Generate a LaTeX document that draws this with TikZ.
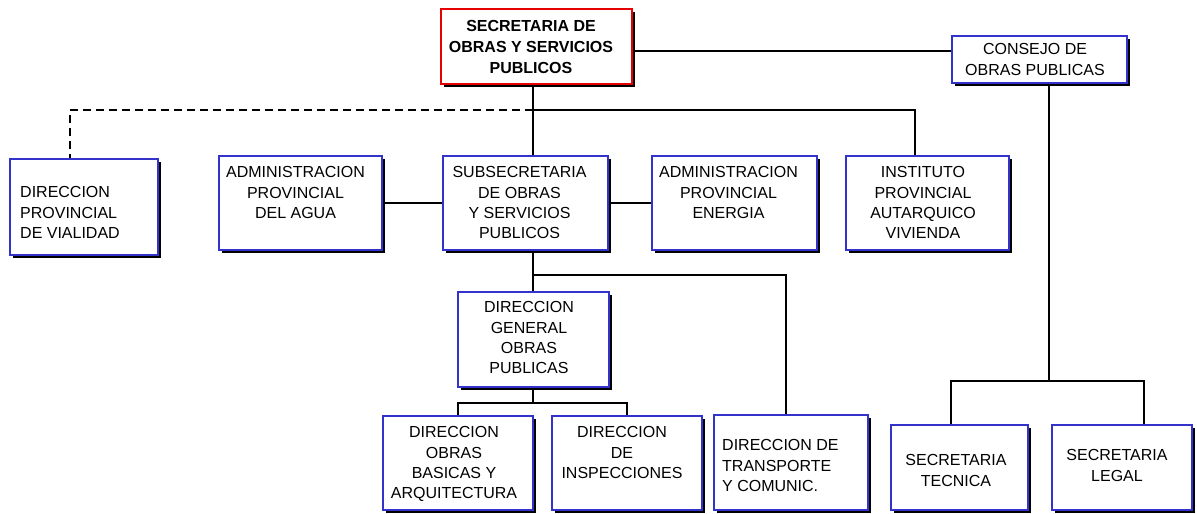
\documentclass[tikz,border=0pt]{standalone}
\usepackage{fontspec}
\setmainfont{Liberation Sans}
\usetikzlibrary{shadows}
\definecolor{boxblue}{RGB}{51,51,204}
\definecolor{boxred}{RGB}{230,0,0}
\tikzset{
  orgbox/.style={rectangle, draw=boxblue, line width=2.5pt, fill=white, inner sep=0pt,
    drop shadow={shadow xshift=3pt, shadow yshift=-3pt, opacity=1, fill=black}},
  redbox/.style={orgbox, draw=boxred},
  lbl/.style={inner sep=0pt, align=center, anchor=north, font=\fontsize{16}{20.3}\selectfont},
  lbll/.style={lbl, align=left, anchor=north west},
  conn/.style={line width=1.4pt, draw=black},
  dashconn/.style={conn, dash pattern=on 8pt off 5pt}
}
\begin{document}
\begin{tikzpicture}[x=1pt,y=-1pt]
\useasboundingbox[fill=white] (0,0) rectangle (1197,514);
% boxes
\node[redbox, minimum width=191pt, minimum height=75pt] (sec) at (536.5,46.5) {};
\node[orgbox, minimum width=175pt, minimum height=47pt] (cons) at (1039.5,59.5) {};
\node[orgbox, minimum width=148pt, minimum height=96pt] (vial) at (84,207) {};
\node[orgbox, minimum width=163pt, minimum height=94pt] (agua) at (300.5,203) {};
\node[orgbox, minimum width=165pt, minimum height=94pt] (sub) at (525.5,203) {};
\node[orgbox, minimum width=165pt, minimum height=94pt] (ener) at (734.5,203) {};
\node[orgbox, minimum width=163pt, minimum height=94pt] (inst) at (927.5,203) {};
\node[orgbox, minimum width=151pt, minimum height=95pt] (dgop) at (533.5,339.5) {};
\node[orgbox, minimum width=150pt, minimum height=94pt] (basic) at (458,463) {};
\node[orgbox, minimum width=150pt, minimum height=94pt] (insp) at (627,463) {};
\node[orgbox, minimum width=154pt, minimum height=95pt] (transp) at (791,462.5) {};
\node[orgbox, minimum width=137pt, minimum height=85pt] (tec) at (959.5,467.5) {};
\node[orgbox, minimum width=140pt, minimum height=85pt] (leg) at (1122,467.5) {};
% labels
\node[lbl, font=\fontsize{16}{21}\selectfont\bfseries] (tsec) at (531,20.5) {SECRETARIA DE\\OBRAS Y SERVICIOS\\PUBLICOS};
\node[lbl] (tcons) at (1035,43.5) {CONSEJO DE\\OBRAS PUBLICAS};
\node[lbll] (tvial) at (20,186.5) {DIRECCION\\PROVINCIAL\\DE VIALIDAD};
\node[lbl] (tagua) at (295.5,166.5) {ADMINISTRACION\\PROVINCIAL\\DEL AGUA};
\node[lbl] (tsub) at (519.5,166.5) {SUBSECRETARIA\\DE OBRAS\\Y SERVICIOS\\PUBLICOS};
\node[lbl] (tener) at (728.5,166.5) {ADMINISTRACION\\PROVINCIAL\\ENERGIA};
\node[lbl] (tinst) at (923,166.5) {INSTITUTO\\PROVINCIAL\\AUTARQUICO\\VIVIENDA};
\node[lbl] (tdgop) at (529,301.5) {DIRECCION\\GENERAL\\OBRAS\\PUBLICAS};
\node[lbl] (tbasic) at (454,426.5) {DIRECCION\\OBRAS\\BASICAS Y\\ARQUITECTURA};
\node[lbl] (tinsp) at (622,426.5) {DIRECCION\\DE\\INSPECCIONES};
\node[lbll] (ttransp) at (722,439.5) {DIRECCION DE\\TRANSPORTE\\Y COMUNIC.};
\node[lbl] (ttec) at (956,454.5) {SECRETARIA\\TECNICA};
\node[lbl] (tleg) at (1117,449.5) {SECRETARIA\\LEGAL};
% junction coordinates
\coordinate (j1) at (533,110);
\coordinate (jd) at (70,110);
\coordinate (ji) at (915,110);
\coordinate (jsc) at (700,51);
\coordinate (j2) at (533,275);
\coordinate (jt) at (786,275);
\coordinate (j3) at (533,403);
\coordinate (jb) at (458,403);
\coordinate (jn) at (627,403);
\coordinate (jc) at (1049,381);
\coordinate (jtec) at (951,381);
\coordinate (jleg) at (1144,381);
% connectors
\draw[conn] (j1 |- sec.south) -- (j1 |- sub.north);
\draw[conn] (j1) -- (ji) -- (ji |- inst.north);
\draw[dashconn] (j1) -- (jd) -- (jd |- vial.north);
\draw[conn] (jsc -| sec.east) -- (jsc -| cons.west);
\draw[conn] (agua.east) -- (sub.west);
\draw[conn] (sub.east) -- (ener.west);
\draw[conn] (j2 |- sub.south) -- (j2 |- dgop.north);
\draw[conn] (j2) -- (jt) -- (jt |- transp.north);
\draw[conn] (j3 |- dgop.south) -- (j3);
\draw[conn] (jb |- basic.north) -- (jb) -- (jn) -- (jn |- insp.north);
\draw[conn] (jc |- cons.south) -- (jc);
\draw[conn] (jtec |- tec.north) -- (jtec) -- (jleg) -- (jleg |- leg.north);
\end{tikzpicture}
\end{document}
